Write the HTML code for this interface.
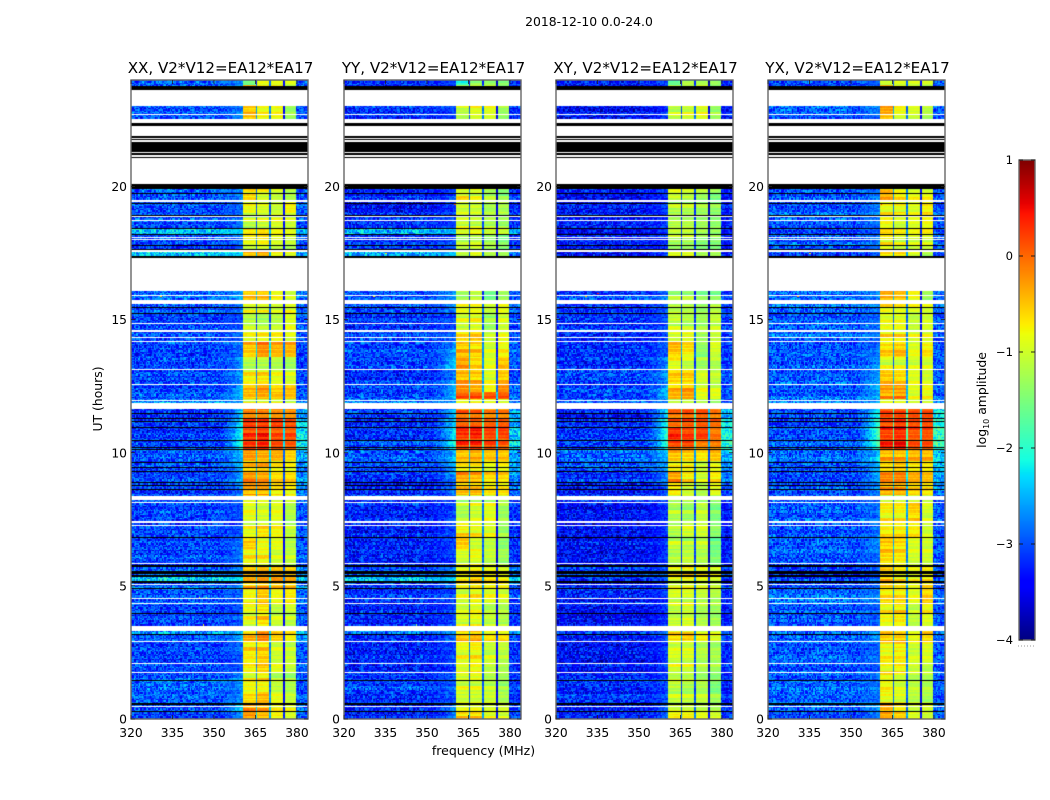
<!DOCTYPE html>
<html lang="en">
<head>
<meta charset="utf-8">
<title>2018-12-10 0.0-24.0</title>
<style>
html,body{margin:0;padding:0;background:#fff;}
#figure{position:relative;width:1050px;height:800px;background:#fff;overflow:hidden;font-family:"DejaVu Sans","Liberation Sans",sans-serif;color:#000;}
canvas{position:absolute;display:block;}
svg{position:absolute;left:0;top:0;}
svg text{font-family:"DejaVu Sans","Liberation Sans",sans-serif;fill:#000;}
</style>
</head>
<body>
<div id="figure">
<canvas id="heat-xx" width="177" height="639" style="left:131px;top:80px"></canvas>
<canvas id="heat-yy" width="177" height="639" style="left:344px;top:80px"></canvas>
<canvas id="heat-xy" width="177" height="639" style="left:556px;top:80px"></canvas>
<canvas id="heat-yx" width="177" height="639" style="left:768px;top:80px"></canvas>
<canvas id="cbar" width="16" height="480" style="left:1019px;top:160px"></canvas>
<svg id="overlay" width="1050" height="800" viewBox="0 0 1050 800">
<text x="589" y="26" text-anchor="middle" font-size="12.4">2018-12-10 0.0-24.0</text>
<text x="483.5" y="755" text-anchor="middle" font-size="12.5">frequency (MHz)</text>
<text transform="translate(102,399) rotate(-90)" text-anchor="middle" font-size="12.4">UT (hours)</text>
<text transform="translate(986,400) rotate(-90)" text-anchor="middle" font-size="12.4">log<tspan font-size="8" dy="3">10</tspan><tspan dy="-3"> amplitude</tspan></text>
</svg>
</div>
<script>
// Panel titles and axis tick labels
const panelTitles = ["XX, V2*V12=EA12*EA17", "YY, V2*V12=EA12*EA17", "XY, V2*V12=EA12*EA17", "YX, V2*V12=EA12*EA17"];
const freqTicks = [320, 335, 350, 365, 380];
const hourTicks = [0, 5, 10, 15, 20];
const colorbarTicks = [-4, -3, -2, -1, 0, 1];

// Frequency groups (MHz): background, shoulder ramp, shoulder, band 1, gap, band 2, gap, band 3, gap, band 4, upper edge
const freqEdges = [320, 350, 355, 360.5, 365, 365.6, 370.2, 370.7, 375, 375.6, 379.8, 384];
const gapDepth = [2.0, 1.9, 2.4];

// Start hour of each time block
const blockStarts = [0, .25, .6, 1, 1.45, 1.75, 2.1, 2.4, 2.9, 3.2, 3.5, 4, 4.35, 4.9, 5.06, 5.18, 5.36, 5.8, 6.4, 6.85, 7.4, 8.15, 8.4, 8.9, 9.3, 9.7, 10.15, 10.5, 10.95, 11.3, 11.85, 12, 12.3, 12.6, 13.15, 13.6, 14.2, 14.6, 15.3, 15.7, 17.38, 17.65, 18.2, 18.46, 19, 19.5, 19.76, 22.4, 23.8];

// log10 amplitude per block: background, shoulder, band 1-4, upper edge
const levelsXX = [
[-3.1,-2.6,-.2,-.4,-.7,-.9,-2.9],[-3.1,-2.2,-.3,-.4,-.8,-.9,-2.9],[-3,-2.7,-.7,-.5,-.9,-1.1,-3],[-2.9,-2.7,-.8,-.8,-1.1,-1.2,-3],[-3,-2.6,-.9,-.7,-1.2,-1.3,-3],[-3.1,-3,-.8,-.6,-.9,-1.1,-3],[-3.1,-3,-.7,-.5,-1,-1,-3],[-3.1,-2.8,-.7,-.6,-1,-1.1,-3],[-3,-2.5,-.4,-.2,-.6,-.8,-2.7],[-2.7,-2.5,-.8,-.3,-.6,-.7,-2.5],
[-3.1,-2.9,-.9,-.6,-1,-1.1,-3],[-3.1,-3,-.85,-.7,-1.1,-1,-3],[-3,-2.9,-.8,-.5,-.8,-.7,-2.9],[-3,-2.7,-.5,-.4,-.5,-.5,-2.8],[-3,-2.7,-.5,-.4,-.4,-.5,-2.8],[-2.4,-2.3,-.4,-.3,-.3,-.4,-2.4],[-2.9,-2.6,-.4,-.3,-.4,-.5,-2.7],[-3.1,-2.8,-.8,-.8,-1,-1.1,-3],[-3.1,-2.8,-.6,-.9,-.9,-1.2,-3],[-3.1,-3,-.9,-.7,-.8,-1.1,-3],[-3.1,-3,-.9,-1,-.9,-1.2,-3],[-3,-2.9,-.9,-.9,-1,-1,-2.9],
[-3.2,-2.7,-.4,-.4,-.7,-.8,-2.8],[-3.1,-2.5,-.2,-.3,-.6,-.6,-2.7],[-3.1,-2.5,-.6,-.5,-.8,-.9,-2.8],[-3,-2.4,-.3,-.4,-.4,-.6,-2.6],[-3.1,-1.9,.3,.4,.2,.1,-2.2],[-3.2,-2,.2,.3,.1,.1,-2.3],[-3.2,-2.1,.2,.2,.2,.1,-2.4],[-3.2,-2.3,-.1,-.1,-.2,-.2,-2.6],[-2.7,-2.6,-.9,-.9,-.9,-1.1,-2.8],[-3,-2.4,-.5,-.4,-.5,-.5,-3],
[-3.1,-2.5,-.5,-.3,-.6,-.5,-3],[-3.1,-2.6,-.8,-.7,-.9,-1,-3.1],[-3.1,-2.6,-1.2,-1.2,-1.2,-1.3,-3.1],[-3.1,-2.8,-.5,-.2,-.4,-.4,-3.1],[-3,-2.9,-.8,-.7,-.7,-.9,-3],[-3.1,-3,-1.1,-1.2,-1.1,-.9,-3],[-3,-2.8,-.9,-.9,-1,-.9,-2.9],[-2.9,-2.5,-.5,-.5,-.8,-1,-2.8],[-2.4,-2.3,-.5,-.4,-.8,-.9,-2.6],[-3.1,-2.8,-.9,-.8,-1,-1.1,-3],
[-2.4,-2.3,-.6,-.5,-.7,-.8,-2.5],[-3,-2.8,-1.1,-1,-.9,-1,-3],[-3.1,-2.9,-.9,-1,-1.1,-.8,-3],[-3,-2.7,-.6,-1,-1.1,-1.2,-3],[-3,-2.8,-.8,-.9,-1.1,-1.3,-3],[-3,-2.7,-.5,-.8,-.8,-1.3,-3],[-3,-2.8,-1.7,-1,-1,-1,-3]];

const levelsYY = [
[-3.3,-2.7,-.6,-.6,-.9,-1,-3.1],[-3.3,-2.6,-.9,-.9,-1,-1,-3.1],[-3.2,-2.9,-1,-1,-1,-1.2,-3.2],[-3.1,-2.9,-1,-1,-1.1,-1.3,-3.2],[-3.2,-2.9,-1,-.9,-1.2,-1.3,-3.2],[-3.3,-3,-.9,-.8,-1.1,-1.2,-3.2],[-3.3,-3,-.9,-.8,-1,-1.2,-3.2],[-3.3,-3,-.9,-.8,-1.1,-1.1,-3.2],[-3.2,-2.8,-.4,-.3,-.6,-.6,-3],[-2.8,-2.6,-.6,-.5,-.8,-.8,-2.7],
[-3.3,-3,-1,-.9,-1.1,-1.2,-3.2],[-3.3,-3,-1,-.9,-1.2,-1.2,-3.2],[-3.2,-3,-1,-.8,-.9,-1,-3.1],[-3.2,-2.8,-.8,-.7,-.8,-.8,-3],[-3.1,-2.8,-.8,-.7,-.8,-.8,-2.9],[-2.5,-2.4,-.8,-.6,-.7,-.8,-2.5],[-3,-2.7,-.8,-.7,-.8,-.9,-2.8],[-3.3,-3,-1,-.9,-1.1,-1.3,-3.2],[-3.3,-3,-.5,-1,-1.1,-1.4,-3.2],[-3.3,-3,-.7,-.8,-.9,-1.3,-3.2],[-3.3,-3,-1.2,-1,-.9,-1.3,-3.2],[-3.1,-3,-1.2,-1.1,-1.2,-1.1,-3.1],
[-3.3,-2.7,-.5,-.5,-.7,-.7,-2.9],[-3.2,-2.6,-.3,-.4,-.6,-.6,-2.7],[-3.1,-2.5,-.7,-.7,-.9,-.8,-2.7],[-3,-2.4,-.5,-.4,-.5,-.5,-2.7],[-3.1,-2,.2,.2,.1,0,-2.3],[-3.2,-2.1,.3,.4,.2,.2,-2.4],[-3.2,-2.2,.1,.1,.1,.1,-2.6],[-3.2,-2.4,-.1,-.1,-.2,-.2,-2.7],[-2.8,-2.7,-.9,-.8,-.9,-1,-2.9],[-3.1,-2.3,.1,.1,.1,.1,-2.9],
[-3.1,-2.4,-.2,-.4,-.8,-.2,-2.9],[-3.2,-2.6,-.4,-.5,-.9,-.5,-3.1],[-3.1,-2.3,-.3,-.6,-.9,-.5,-3],[-3.1,-2.6,-.5,-.6,-1,-.8,-3],[-3.1,-2.9,-.7,-.6,-1.1,-.9,-3.1],[-3.2,-3,-1,-.9,-1.3,-1,-3.1],[-3.1,-2.7,-.9,-.9,-1.1,-.9,-3],[-3,-2.6,-1.3,-1.1,-1.6,-1.3,-3],[-2.5,-2.4,-1,-.8,-1.1,-1.2,-2.8],[-3.2,-3,-1.2,-1.1,-1.3,-1.5,-3.2],
[-2.5,-2.4,-.9,-.8,-1,-1,-2.6],[-3.2,-3,-1,-1.1,-1.2,-1.3,-3.2],[-3.4,-3,-1,-1,-1.2,-1.2,-3.2],[-3.3,-3,-.8,-1,-1.2,-1.4,-3.2],[-3.3,-3,-.9,-.9,-1.2,-1.4,-3.2],[-3.2,-3,-1.1,-.9,-.9,-1.3,-3.2],[-3.2,-3,-2,-1.3,-1.3,-1.4,-3.2]];

const levelsXY = [
[-3.3,-2.9,-.8,-.8,-.9,-1,-3.1],[-3.3,-2.8,-1,-1,-1.1,-1.2,-3.1],[-3.2,-3,-1.1,-1.1,-1.1,-1.3,-3.2],[-3.2,-3,-1.1,-1.2,-1.2,-1.5,-3.2],[-3.2,-3,-1.1,-1.1,-1.3,-1.4,-3.2],[-3.4,-3.1,-1,-1,-1.2,-1.3,-3.2],[-3.4,-3.1,-1,-1,-1.2,-1.2,-3.2],[-3.4,-3.1,-1,-1,-1.2,-1.3,-3.2],[-3.3,-2.9,-.6,-.5,-.7,-.9,-3],[-3.1,-2.8,-.7,-.7,-1,-1,-3],
[-3.4,-3.1,-1.1,-1,-1.2,-1.3,-3.3],[-3.4,-3.1,-1.1,-1,-1.2,-1.3,-3.3],[-3.3,-3.1,-1,-1,-1.1,-1.2,-3.2],[-3.3,-3,-.9,-.8,-.9,-1,-3.1],[-3.2,-3,-.9,-.8,-.9,-1,-3.1],[-3.1,-2.9,-.8,-.7,-.8,-.9,-3.1],[-3.1,-2.9,-.8,-.7,-.8,-.9,-3.1],[-3.4,-3.1,-1.2,-1.1,-1.2,-1.5,-3.3],[-3.4,-3.1,-1.1,-1.2,-1.1,-1.6,-3.3],[-3.4,-3.1,-1.2,-1,-1,-1.4,-3.3],[-3.4,-3.1,-1.2,-1.3,-1.1,-1.5,-3.3],[-3.2,-3.1,-1.3,-1.2,-1.4,-1.4,-3.2],
[-3.3,-2.8,-.6,-.9,-1.1,-.8,-3],[-3.2,-2.7,-.3,-.7,-1,-.7,-2.8],[-3,-2.6,-.8,-.8,-1.1,-.9,-2.7],[-2.9,-2.4,-.5,-.6,-.7,-.5,-2.5],[-3.1,-1.9,.2,.2,-.1,-.1,-2],[-3.2,-1.9,.3,.2,.2,-.1,-2.1],[-3.2,-2,0,.1,.1,0,-2.2],[-3.3,-2.2,0,.1,.1,-.1,-2.4],[-2.8,-2.7,-1,-1,-1.1,-1.3,-2.9],[-3.1,-2.4,-.4,-.3,-.9,-.9,-3],
[-3.1,-2.5,-.5,-.4,-.9,-1,-3],[-3.1,-2.6,-.6,-.6,-1,-1.1,-3],[-3.2,-2.7,-.9,-1.1,-1.3,-1.2,-3.1],[-3.2,-2.9,-.5,-.7,-1.4,-1,-3.1],[-3.2,-3,-.9,-.8,-1.2,-1,-3.1],[-3.2,-3,-1.1,-1.2,-1.3,-1.1,-3.1],[-3.1,-2.9,-1.1,-1.1,-1.3,-1.1,-3],[-3.1,-2.8,-1.3,-1.3,-1.5,-1.5,-3.1],[-3.4,-3,-1,-1,-1.3,-1.3,-3.3],[-3.3,-3.1,-1.2,-1.2,-1.4,-1.4,-3.3],
[-3.4,-3.1,-1,-1,-1.2,-1.3,-3.3],[-3.3,-3.1,-1.2,-1.2,-1.3,-1.4,-3.3],[-3.4,-3.1,-1.2,-1.2,-1.3,-1.4,-3.3],[-3.4,-3.1,-1,-1.1,-1.3,-1.5,-3.3],[-3.4,-3.1,-1,-1.1,-1.2,-1.4,-3.3],[-3.4,-3.1,-1.1,-1,-.9,-1.3,-3.3],[-3.4,-3.1,-1.9,-1.4,-1.4,-1.5,-3.3]];

const levelsYX = [
[-3.1,-2.7,-.3,-.5,-.9,-1,-2.9],[-3,-2.6,-.4,-.8,-1.1,-1,-2.9],[-2.9,-2.8,-.8,-.9,-1.1,-1.2,-3],[-2.9,-2.8,-.8,-1,-1.1,-1.2,-3],[-3,-2.8,-.8,-1,-1.2,-1.2,-3],[-3,-2.9,-.8,-.7,-1,-1.1,-3],[-3,-2.9,-.8,-.8,-1,-1,-3],[-3,-2.9,-.8,-.7,-1,-.9,-3],[-2.9,-2.6,-.5,-.5,-.8,-.6,-2.9],[-2.9,-2.6,-.5,-.6,-.9,-.5,-2.8],
[-3,-2.9,-.8,-.7,-1.1,-.9,-3],[-3,-2.9,-.8,-.7,-1.1,-.8,-3],[-2.9,-2.8,-.7,-.7,-.9,-.6,-3],[-3,-2.8,-.5,-.6,-.8,-.5,-2.9],[-3.1,-2.9,-.5,-.7,-.8,-.7,-3],[-3.1,-2.9,-.5,-.7,-.8,-.7,-3],[-3.1,-2.9,-.5,-.7,-.8,-.7,-3],[-3,-2.8,-.6,-.7,-1,-1,-3],[-3,-2.7,-.5,-.6,-.9,-1,-3],[-3,-2.8,-.7,-.7,-.7,-1,-3],[-3,-2.8,-.8,-.8,-.6,-1,-3],[-2.9,-2.8,-.9,-.9,-.9,-1,-3],
[-3.1,-2.7,-.4,-.4,-.6,-.7,-2.8],[-3.1,-2.5,-.2,-.2,-.4,-.5,-2.6],[-3,-2.4,-.6,-.5,-.7,-.7,-2.5],[-2.9,-2.3,-.4,-.4,-.4,-.4,-2.4],[-3,-1.7,.3,.4,.1,.1,-1.9],[-3.1,-1.7,.2,.3,.1,.1,-2],[-3.1,-1.8,.2,.3,.2,.2,-2],[-3.1,-2.1,.1,.1,.1,.1,-2.3],[-2.8,-2.6,-.9,-.9,-1,-1,-2.8],[-2.9,-2.4,-.3,-.2,-.9,-.8,-2.9],
[-3,-2.4,-.3,-.3,-.9,-.8,-2.9],[-3,-2.6,-.5,-.6,-.9,-1,-3],[-3,-2.6,-1,-1,-1,-1,-3],[-3,-2.8,-.6,-.5,-.9,-.7,-3],[-2.9,-2.8,-.7,-.7,-.9,-.9,-3],[-3,-2.9,-.9,-.9,-1.1,-1,-3],[-2.9,-2.8,-.8,-.9,-.9,-1,-2.9],[-2.9,-2.7,-.4,-.5,-.8,-1.3,-2.9],[-3.1,-2.9,-.6,-.6,-.9,-1.2,-3.1],[-3,-2.8,-.8,-1,-1,-1,-3],
[-3.1,-2.9,-.6,-.7,-.8,-.7,-3],[-3,-2.8,-.8,-1,-.9,-.8,-3],[-3,-2.7,-.8,-.8,-.9,-.7,-3],[-3,-2.7,-.4,-.7,-.8,-.8,-3],[-3,-2.8,-.4,-.8,-1,-1,-3],[-3,-2.8,-.4,-.9,-1,-1.2,-3],[-3.1,-2.9,-1.1,-1,-1,-1,-3]];

const panelLevels = [levelsXX, levelsYY, levelsXY, levelsYX];

// Flagged time ranges [start hour, end hour]
const whiteFlags = [[.44,.48],[1.72,1.76],[2.05,2.09],[2.89,2.93],[3.29,3.49],[4.33,4.37],[4.5,4.54],[5.02,5.06],[5.82,5.86],[7.24,7.28],[7.38,7.42],[8.11,8.15],[8.22,8.39],[11.66,11.85],[11.97,12],[12.54,12.58],[13.1,13.16],[14.16,14.19],[14.3,14.36],[14.52,14.56],[14.58,14.62],[14.86,14.89],[15.6,15.72],[15.88,15.94],[16.06,17.32],[17.53,17.6],[18,18.04],[18.09,18.12],[18.71,18.76],[18.85,18.9],[19.4,19.49],[20.11,21.06],[21.12,21.19],[21.24,21.29],[21.66,21.74],[21.79,21.84],[21.88,22.29],[22.37,22.55],[22.7,22.73],[23.01,23.62]];
const blackFlags = [[.25,.3],[.54,.59],[1.43,1.47],[3.15,3.19],[3.96,4],[4.87,4.91],[5.09,5.2],[5.34,5.4],[5.46,5.55],[5.7,5.78],[6.81,6.85],[8.6,8.64],[8.77,8.8],[8.88,8.92],[9.27,9.32],[9.45,9.48],[9.65,9.67],[10.1,10.14],[10.17,10.21],[10.45,10.49],[10.93,10.95],[11.14,11.18],[11.28,11.31],[11.44,11.48],[15.24,15.26],[15.44,15.48],[17.32,17.38],[17.6,17.65],[17.77,17.81],[18.16,18.2],[18.42,18.46],[18.9,18.93],[19.33,19.37],[19.73,19.76],[19.89,20.11],[21.06,21.12],[21.19,21.24],[21.29,21.66],[21.74,21.79],[21.84,21.88],[22.29,22.37],[23.62,23.77]];

// Isolated bright channels [panel, hour, MHz, log10 amplitude]
const rfiSpikes = [[0,15.85,331,-.6],[1,15.85,331,-.8],[2,15.85,331,-.3],[3,15.85,331,-.4],[0,4.55,345,-.9],[0,4.55,347,-1.3],[3,4.53,348,-1],[3,4.53,350,-1.1],[3,4.53,352,-1.2],[2,4.55,343,-1.2],[0,3.5,346,-.9],[1,3.52,346,-1.4],[3,17.45,335,-.7],[1,17.45,335,-.7],[1,19.3,360,.2],[3,19.3,361,.3],[2,15.98,335,.4],[0,14.7,351,-2],[3,14.7,351,-2],[3,14.75,356,-2]];

// Hand-written texture offsets: stand-ins for the channel noise, which is not readable per pixel
const speckle = [.31,-.42,.12,-.18,.47,-.09,-.33,.22,.05,-.5,.38,-.14,.27,-.27,.09,.44,-.38,.16,-.06,-.22,.35,-.46,.2,.02,-.3,.41,-.11,.25,-.36,.07,.5,-.2,-.03,.29,-.44,.14,.33,-.25,.18,-.12,.24];
const rowStreaks = [.05,-.1,.22,-.06,.02,-.2,.14,.3,-.08,-.14,.08,-.02,.26,-.18,.1,-.04,.18,-.24,.06,.12,-.12,.2,-.16];

const chanCount = 133, rowCount = 480, hoursMax = 24, freqMin = 320, freqMax = 384;
const panelLeft = [131, 344, 556, 768];
const panelTop = 80, panelW = 177, panelH = 639;
const xOf = function (mhz) { return (mhz - freqMin) / (freqMax - freqMin) * panelW; };
const yOf = function (h) { return panelH * (1 - h / hoursMax); };

function jet(v) {
  const t = Math.max(0, Math.min(1, (v + 4) / 5));
  const c = function (x, pts) {
    for (let i = 1; i < pts.length; i++) {
      if (x <= pts[i][0]) {
        return pts[i - 1][1] + (pts[i][1] - pts[i - 1][1]) * (x - pts[i - 1][0]) / (pts[i][0] - pts[i - 1][0]);
      }
    }
    return pts[pts.length - 1][1];
  };
  return [
    255 * c(t, [[0, 0], [.35, 0], [.66, 1], [.89, 1], [1, .5]]),
    255 * c(t, [[0, 0], [.125, 0], [.375, 1], [.64, 1], [.91, 0], [1, 0]]),
    255 * c(t, [[0, .5], [.11, 1], [.34, 1], [.65, 0], [1, 0]])
  ];
}

function drawPanel(canvasId, p) {
  const levels = panelLevels[p];
  const off = document.createElement('canvas');
  off.width = chanCount;
  off.height = rowCount;
  const octx = off.getContext('2d');
  const img = octx.createImageData(chanCount, rowCount);
  for (let r = 0; r < rowCount; r++) {
    const hour = (r + .5) * hoursMax / rowCount;
    let b = 0;
    while (b + 1 < blockStarts.length && blockStarts[b + 1] <= hour) b++;
    const L = levels[b];
    const streak = rowStreaks[(r * 5 + p * 7) % rowStreaks.length];
    for (let c = 0; c < chanCount; c++) {
      const mhz = freqMin + (c + .5) * (freqMax - freqMin) / chanCount;
      let g = 0;
      while (g + 2 < freqEdges.length && freqEdges[g + 1] <= mhz) g++;
      const noise = speckle[(c * c * 7 + r * r * 13 + c * r * 3 + c * 5 + r * 11 + p * 19) % speckle.length];
      let v;
      if (g === 0) v = L[0] + noise * 1.1 + streak * .5;
      else if (g === 1 || g === 2) {
        const f = (mhz - freqEdges[1]) / (freqEdges[3] - freqEdges[1]);
        v = L[0] + (L[1] - L[0]) * f * f + noise * (1 - .6 * f) + streak * .5;
      }
      else if (g === 3) v = L[2] + noise * .14 + streak;
      else if (g === 4) v = (L[2] + L[3]) / 2 - gapDepth[0] + noise * .3;
      else if (g === 5) v = L[3] + noise * .14 + streak;
      else if (g === 6) v = (L[3] + L[4]) / 2 - gapDepth[1] + noise * .3;
      else if (g === 7) v = L[4] + noise * .14 + streak * .7;
      else if (g === 8) v = (L[4] + L[5]) / 2 - gapDepth[2] + noise * .3;
      else if (g === 9) v = L[5] + noise * .14 + streak * .7;
      else v = L[6] + noise * .9 + streak * .5;
      const rgb = jet(v);
      const i = ((rowCount - 1 - r) * chanCount + c) * 4;
      img.data[i] = rgb[0];
      img.data[i + 1] = rgb[1];
      img.data[i + 2] = rgb[2];
      img.data[i + 3] = 255;
    }
  }
  rfiSpikes.forEach(function (s) {
    if (s[0] !== p) return;
    const c = Math.floor((s[2] - freqMin) / (freqMax - freqMin) * chanCount);
    const r = Math.floor(s[1] / hoursMax * rowCount);
    const rgb = jet(s[3]);
    const i = ((rowCount - 1 - r) * chanCount + c) * 4;
    img.data[i] = rgb[0];
    img.data[i + 1] = rgb[1];
    img.data[i + 2] = rgb[2];
  });
  octx.putImageData(img, 0, 0);
  const ctx = document.getElementById(canvasId).getContext('2d');
  ctx.imageSmoothingEnabled = false;
  ctx.drawImage(off, 0, 0, panelW, panelH);
  const paintFlags = function (list, color) {
    ctx.fillStyle = color;
    list.forEach(function (f) {
      const y0 = Math.round(yOf(f[1]));
      const y1 = Math.round(yOf(f[0]));
      ctx.fillRect(0, y0, panelW, Math.max(1, y1 - y0));
    });
  };
  paintFlags(whiteFlags, '#fff');
  paintFlags(blackFlags, '#000');
}

['heat-xx', 'heat-yy', 'heat-xy', 'heat-yx'].forEach(function (id, p) { drawPanel(id, p); });

// Colorbar gradient
const cbarCtx = document.getElementById('cbar').getContext('2d');
for (let i = 0; i < 480; i++) {
  const rgb = jet(1 - i / 480 * 5);
  cbarCtx.fillStyle = 'rgb(' + Math.round(rgb[0]) + ',' + Math.round(rgb[1]) + ',' + Math.round(rgb[2]) + ')';
  cbarCtx.fillRect(0, i, 16, 1);
}

// Axes overlay
const NS = 'http://www.w3.org/2000/svg';
const overlay = document.getElementById('overlay');
function addLine(x1, y1, x2, y2, color, width) {
  const l = document.createElementNS(NS, 'line');
  l.setAttribute('x1', x1);
  l.setAttribute('y1', y1);
  l.setAttribute('x2', x2);
  l.setAttribute('y2', y2);
  l.setAttribute('stroke', color);
  l.setAttribute('stroke-width', width);
  overlay.appendChild(l);
  return l;
}
function addText(x, y, str, size, anchor) {
  const t = document.createElementNS(NS, 'text');
  t.setAttribute('x', x);
  t.setAttribute('y', y);
  t.setAttribute('font-size', size);
  t.setAttribute('text-anchor', anchor);
  t.textContent = str;
  overlay.appendChild(t);
  return t;
}
panelTitles.forEach(function (title, p) {
  const left = panelLeft[p];
  const frame = document.createElementNS(NS, 'rect');
  frame.setAttribute('x', left);
  frame.setAttribute('y', panelTop);
  frame.setAttribute('width', panelW);
  frame.setAttribute('height', panelH);
  frame.setAttribute('fill', 'none');
  frame.setAttribute('stroke', '#666');
  frame.setAttribute('stroke-width', '1.4');
  
  
  overlay.appendChild(frame);
  const tt = addText(left + panelW / 2 + 1, 73, title, 15.1, 'middle');
  
  
  freqTicks.forEach(function (f) {
    const x = left + xOf(f);
    const t1 = addLine(x, panelTop + panelH, x, panelTop + panelH - 4, '#222', .8);
    
    
    const t2 = addLine(x, panelTop, x, panelTop + 4, '#222', .8);
    
    
    const lab = addText(x, panelTop + panelH + 18, String(f), 12.3, 'middle');
    
    
  });
  hourTicks.forEach(function (h) {
    const y = panelTop + yOf(h);
    const t1 = addLine(left, y, left + 4, y, '#222', .8);
    
    
    const t2 = addLine(left + panelW, y, left + panelW - 4, y, '#222', .8);
    
    
    const lab = addText(left - 4, y + 4.5, String(h), 12.3, 'end');
    
    
  });
});
const cbFrame = document.createElementNS(NS, 'rect');
cbFrame.setAttribute('x', 1019);
cbFrame.setAttribute('y', 160);
cbFrame.setAttribute('width', 16);
cbFrame.setAttribute('height', 480);
cbFrame.setAttribute('fill', 'none');
cbFrame.setAttribute('stroke', '#666');
cbFrame.setAttribute('stroke-width', '1.4');


overlay.appendChild(cbFrame);
colorbarTicks.forEach(function (v) {
  const y = 160 + (1 - v) / 5 * 480;
  const a = addLine(1019, y, 1023, y, '#111', .9);
  
  
  const b = addLine(1035, y, 1031, y, '#111', .9);
  
  
  const lab = addText(1013, y + 4, v < 0 ? '\u2212' + Math.abs(v) : String(v), 11.6, 'end');
  
  
});
const dots = addLine(1018, 646, 1035, 646, '#999', 1);
dots.setAttribute('stroke-dasharray', '1 2');


</script>
</body>
</html>
